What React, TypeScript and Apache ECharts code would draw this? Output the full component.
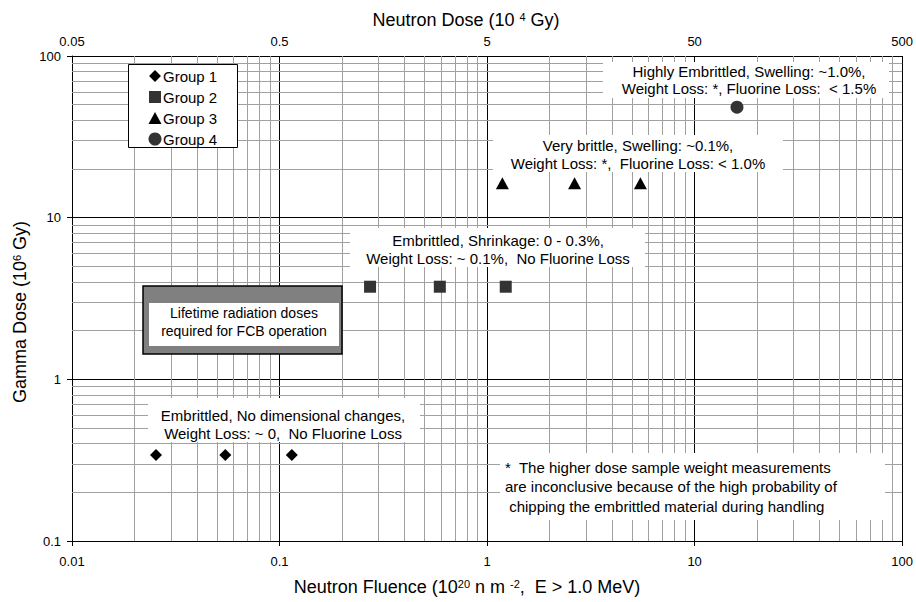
import React, { useEffect, useRef } from "react";
import * as echarts from "echarts";

// ---- data ----
const group1Fluence = [0.0254, 0.0548, 0.1146];
const group1Gamma = [0.34, 0.34, 0.34];
const group2Fluence = [0.273, 0.592, 1.23];
const group2Gamma = [3.74, 3.74, 3.74];
const group3Fluence = [1.185, 2.64, 5.48];
const group3Gamma = [16.3, 16.3, 16.3];
const group4Fluence = [16.0];
const group4Gamma = [48.2];

const fluenceTickLabels = ["0.01", "0.1", "1", "10", "100"];
const doseTickLabels = ["0.05", "0.5", "5", "50", "500"];
const gammaTickLabels = ["0.1", "1", "10", "100"];
const legendNames = ["Group 1", "Group 2", "Group 3", "Group 4"];

const FONT = "Liberation Sans, Arial, Helvetica, sans-serif";

function minorValues(fromExp: number, toExp: number): number[] {
  const out: number[] = [];
  for (let e = fromExp; e < toExp; e++) {
    for (let k = 2; k <= 9; k++) out.push(Number((k * Math.pow(10, e)).toPrecision(3)));
  }
  return out;
}

function pairs(xs: number[], ys: number[]) {
  return xs.map((x, i) => [x, ys[i]]);
}

export default function App() {
  const ref = useRef<HTMLDivElement>(null);
  useEffect(() => {
    document.body.style.margin = "0";
    const chart = echarts.init(ref.current!, null, { renderer: "svg" });
    const minorX = minorValues(-2, 2);
    const minorY = minorValues(-1, 2);
    const annText = (x: number, y: number, text: string, size = 15, lh = 18, align = "center") => ({
      type: "text",
      x,
      y,
      z: 101,
      silent: true,
      style: {
        text,
        fill: "#000",
        fontSize: size,
        fontFamily: FONT,
        lineHeight: lh,
        align,
        verticalAlign: "middle",
      },
    });
    const whiteRect = (x: number, y: number, w: number, h: number) => ({
      type: "rect",
      z: 100,
      silent: true,
      shape: { x, y, width: w, height: h },
      style: { fill: "#fff" },
    });
    const legendY = [76, 97, 118, 139];
    const supStyle = { fontSize: 11, fontFamily: FONT, fill: "#000", verticalAlign: "top" };
    const option: any = {
      animation: false,
      backgroundColor: "#fff",
      textStyle: { fontFamily: FONT },
      grid: { left: 72, right: 12, top: 56, bottom: 61 },
      xAxis: [
        {
          type: "log",
          logBase: 10,
          min: 0.01,
          max: 100,
          position: "bottom",
          axisLine: { show: true, onZero: false, lineStyle: { color: "#000", width: 1 } },
          axisTick: { show: true, inside: false, length: 5, lineStyle: { color: "#000" } },
          axisLabel: {
            color: "#000",
            fontSize: 13,
            fontFamily: FONT,
            margin: 14,
            formatter: (_v: number, i: number) => fluenceTickLabels[i] ?? "",
          },
          splitLine: { show: true, lineStyle: { color: "#000", width: 1 } },
        },
        {
          type: "log",
          logBase: 10,
          min: 0.01,
          max: 100,
          position: "top",
          axisLine: { show: true, onZero: false, lineStyle: { color: "#000", width: 1 } },
          axisTick: { show: false },
          axisLabel: {
            color: "#000",
            fontSize: 13,
            fontFamily: FONT,
            margin: 8,
            formatter: (_v: number, i: number) => doseTickLabels[i] ?? "",
          },
          splitLine: { show: false },
        },
      ],
      yAxis: {
        type: "log",
        logBase: 10,
        min: 0.1,
        max: 100,
        axisLine: { show: true, onZero: false, lineStyle: { color: "#000", width: 1 } },
        axisTick: { show: true, inside: false, length: 5, lineStyle: { color: "#000" } },
        axisLabel: {
          color: "#000",
          fontSize: 13,
          fontFamily: FONT,
          margin: 11,
          formatter: (_v: number, i: number) => gammaTickLabels[i] ?? "",
        },
        splitLine: { show: true, lineStyle: { color: "#000", width: 1 } },
      },
      series: [
        {
          type: "line",
          data: [],
          silent: true,
          z: 1,
          markLine: {
            silent: true,
            z: 1,
            symbol: ["none", "none"],
            label: { show: false },
            lineStyle: { color: "#a0a0a0", width: 1, type: "solid" },
            emphasis: { disabled: true },
            data: [
              ...minorX.map((v) => ({ xAxis: v })),
              ...minorY.map((v) => ({ yAxis: v })),
            ],
          },
        },
        {
          name: legendNames[0],
          type: "scatter",
          z: 10,
          silent: true,
          symbol: "rect",
          symbolRotate: 45,
          symbolSize: 8.5,
          itemStyle: { color: "#000", opacity: 1 },
          data: pairs(group1Fluence, group1Gamma),
        },
        {
          name: legendNames[1],
          type: "scatter",
          z: 10,
          silent: true,
          symbol: "rect",
          symbolSize: 12,
          itemStyle: { color: "#333", opacity: 1 },
          data: pairs(group2Fluence, group2Gamma),
        },
        {
          name: legendNames[2],
          type: "scatter",
          z: 10,
          silent: true,
          symbol: "triangle",
          symbolSize: [13, 12],
          itemStyle: { color: "#000", opacity: 1 },
          data: pairs(group3Fluence, group3Gamma),
        },
        {
          name: legendNames[3],
          type: "scatter",
          z: 10,
          silent: true,
          symbol: "circle",
          symbolSize: 13,
          itemStyle: { color: "#333", opacity: 1 },
          data: pairs(group4Fluence, group4Gamma),
        },
      ],
      graphic: [
        // titles
        {
          type: "text",
          x: 466,
          y: 20,
          z: 101,
          style: {
            text: "Neutron Dose (10 {sup|4} Gy)",
            fill: "#000",
            fontSize: 18,
            fontFamily: FONT,
            align: "center",
            verticalAlign: "middle",
            rich: { sup: supStyle },
          },
        },
        {
          type: "text",
          x: 467,
          y: 587,
          z: 101,
          style: {
            text: "Neutron Fluence (10{sup|20} n m {sup|-2},  E > 1.0 MeV)",
            fill: "#000",
            fontSize: 18,
            fontFamily: FONT,
            align: "center",
            verticalAlign: "middle",
            rich: { sup: supStyle },
          },
        },
        {
          type: "text",
          x: 20,
          y: 312,
          rotation: Math.PI / 2,
          z: 101,
          style: {
            text: "Gamma Dose (10{sup|6} Gy)",
            fill: "#000",
            fontSize: 18,
            fontFamily: FONT,
            align: "center",
            verticalAlign: "middle",
            rich: { sup: supStyle },
          },
        },
        // legend
        {
          type: "rect",
          z: 100,
          shape: { x: 128.5, y: 64.5, width: 109, height: 83 },
          style: { fill: "#fff", stroke: "#000", lineWidth: 1 },
        },
        {
          type: "rect",
          z: 101,
          x: 155,
          y: legendY[0],
          rotation: Math.PI / 4,
          shape: { x: -4.2, y: -4.2, width: 8.4, height: 8.4 },
          style: { fill: "#000" },
        },
        {
          type: "rect",
          z: 101,
          shape: { x: 149, y: legendY[1] - 6, width: 12, height: 12 },
          style: { fill: "#333" },
        },
        {
          type: "polygon",
          z: 101,
          shape: {
            points: [
              [155, legendY[2] - 6],
              [161.5, legendY[2] + 6],
              [148.5, legendY[2] + 6],
            ],
          },
          style: { fill: "#000" },
        },
        {
          type: "circle",
          z: 101,
          shape: { cx: 155, cy: legendY[3], r: 6.5 },
          style: { fill: "#333" },
        },
        ...legendNames.map((n, i) => annText(163, legendY[i], n, 15, 18, "left")),
        // annotation A
        whiteRect(603, 62, 286, 36),
        annText(749, 80, "Highly Embrittled, Swelling: ~1.0%,\nWeight Loss: *, Fluorine Loss:  < 1.5%", 15, 17.5),
        // annotation B
        whiteRect(493, 135, 290, 37),
        annText(638, 154, "Very brittle, Swelling: ~0.1%,\nWeight Loss: *,  Fluorine Loss: < 1.0%", 15, 18),
        // annotation C
        whiteRect(350, 228, 295, 39),
        annText(498, 249, "Embrittled, Shrinkage: 0 - 0.3%,\nWeight Loss: ~ 0.1%,  No Fluorine Loss", 15, 18),
        // annotation D
        whiteRect(148, 398, 272, 44),
        annText(283, 424, "Embrittled, No dimensional changes,\nWeight Loss: ~ 0,  No Fluorine Loss", 15, 18),
        // footnote
        whiteRect(500, 453, 385, 67),
        annText(
          505,
          486.5,
          "*  The higher dose sample weight measurements\nare inconclusive because of the high probability of\n chipping the embrittled material during handling",
          15,
          19.5,
          "left"
        ),
        // FCB box
        {
          type: "rect",
          z: 100,
          shape: { x: 143, y: 286, width: 199, height: 68 },
          style: { fill: "#808080", stroke: "#000", lineWidth: 1.5 },
        },
        whiteRect(149, 303, 190, 43),
        annText(244, 322, "Lifetime radiation doses\nrequired for FCB operation", 14, 18),
      ],
    };
    chart.setOption(option);
    return () => chart.dispose();
  }, []);
  return <div ref={ref} style={{ width: 916, height: 602 }} />;
}
